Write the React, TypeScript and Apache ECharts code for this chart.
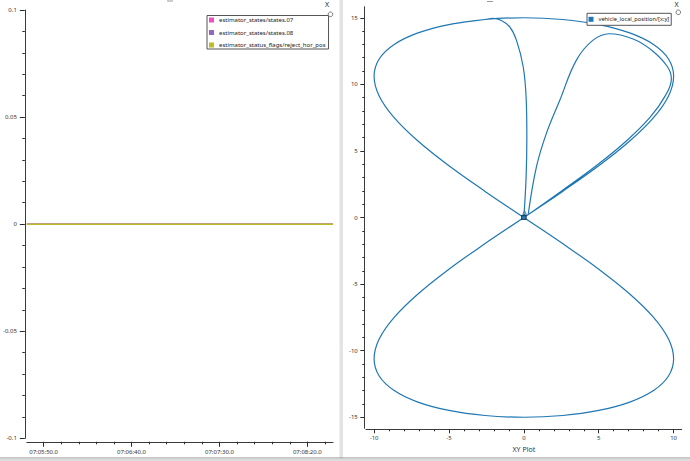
import React, { useEffect, useRef } from "react";
import * as echarts from "echarts";

const FONT = "Noto Sans";

// ---- Left plot (time series) ----
const leftNames = [
  "estimator_states/states.07",
  "estimator_states/states.08",
  "estimator_status_flags/reject_hor_pos",
];
const leftColors = ["#f14cc1", "#9467bd", "#bcbd22"];
const leftTimes = [25540.45, 25600, 25660, 25714.6];
const states07 = [0, 0, 0, 0];
const states08 = [0, 0, 0, 0];
const rejectHorPos = [0, 0, 0, 0];
const leftXRange = [25540.45, 25714.6];
const leftXTicks = [25550, 25700, 50]; // first major, last major, step
const leftXTailMinor = [25700, 25710, 10];
const leftYRange = [-0.1, 0.1, 0.05];

// ---- Right plot (XY plot) ----
const rightName = "vehicle_local_position/[x;y]";
const rightColor = "#1f77b4";
const rightXRange = [-10.54, 10.54];
const rightYRange = [-15.83, 15.83];
const rightXTicks = [-10, 10, 5];
const rightYTicks = [-15, 15, 5];

const takeoffPath = [
  [0, 0], [0.15, 3], [0.2, 6], [0.16, 8.8], [-0.04, 11.3], [-0.49, 13.3], [-0.93, 14.3], [-1.5, 14.8], [-2.07, 14.95],
];
const topLobe = [
  [0, 0], [2.59, 1.96], [5.0, 3.88], [7.07, 5.74], [8.66, 7.5], [9.66, 9.13], [10.0, 10.61], [9.66, 11.9],
  [8.66, 12.99], [7.07, 13.86], [5.0, 14.49], [2.59, 14.87], [0, 15], [-2.59, 14.87], [-5.0, 14.49],
  [-7.07, 13.86], [-8.66, 12.99], [-9.66, 11.9], [-10.0, 10.61], [-9.66, 9.13], [-8.66, 7.5], [-7.07, 5.74],
  [-5.0, 3.88], [-2.59, 1.96], [0, 0],
];
const bottomLobe = [
  [0, 0], [2.59, -1.96], [5.0, -3.88], [7.07, -5.74], [8.66, -7.5], [9.66, -9.13], [10.0, -10.61], [9.66, -11.9],
  [8.66, -12.99], [7.07, -13.86], [5.0, -14.49], [2.59, -14.87], [0, -15], [-2.59, -14.87], [-5.0, -14.49],
  [-7.07, -13.86], [-8.66, -12.99], [-9.66, -11.9], [-10.0, -10.61], [-9.66, -9.13], [-8.66, -7.5], [-7.07, -5.74],
  [-5.0, -3.88], [-2.59, -1.96], [0, 0],
];
const returnPath = [
  [0, 0], [2.5, 1.98], [4.85, 3.9], [6.9, 5.8], [8.45, 7.55], [9.45, 9.15], [9.85, 10.4], [9.6, 11.3],
  [8.6, 12.5], [7.3, 13.4], [5.7, 13.8], [4.6, 13.3], [3.5, 11.8], [2.4, 8.8], [1.5, 6.3], [0.84, 3.8], [0.3, 0.3],
];
const currentPos = [[0, 0]];
const headingMark = [[0.05, 0.38]];

const pad2 = (n: number) => String(n).padStart(2, "0");
const fmtTime = (v: number) => {
  const s = Math.round(v * 10) / 10;
  const h = Math.floor(s / 3600);
  const m = Math.floor((s % 3600) / 60);
  const sec = s - h * 3600 - m * 60;
  return `${pad2(h)}:${pad2(m)}:${sec.toFixed(1).padStart(4, "0")}`;
};

const axisColor = "#3a3a3a";
const tickColor = "#2a2a2a";
const labelColor = "#333";
const LEFT_GRID = { left: 23, top: 10, width: 310, height: 428.3 };
const RIGHT_GRID = { left: 366, top: 6.7, width: 315.7, height: 421.6 };

const hidden = (gridIndex: number) => ({ type: "value", gridIndex, show: false, min: 0, max: 1 });
const lineOnly = (opts: any) => ({
  type: "value",
  axisLine: { show: true, onZero: false, lineStyle: { color: axisColor, width: 1 } },
  axisTick: { show: false },
  axisLabel: { show: false },
  splitLine: { show: false },
  ...opts,
});
const tickAxis = (opts: any, major: number, minor: number) => ({
  type: "value",
  axisLine: { show: false, onZero: false },
  axisTick: { show: true, length: major, lineStyle: { color: tickColor, width: 1 } },
  minorTick: { show: minor > 0, splitNumber: 5, length: minor, lineStyle: { color: tickColor, width: 1 } },
  splitLine: { show: false },
  minorSplitLine: { show: false },
  ...opts,
});

function buildOption(pos: any) {
  const leftData = [states07, states08, rejectHorPos];
  const rightPath = [
    ...takeoffPath,
    ...topLobe.slice(13),
    ...bottomLobe.slice(1),
    ...topLobe.slice(1),
    ...bottomLobe.slice(1),
    ...returnPath.slice(1),
  ];
  const legendBase = {
    orient: "vertical",
    itemWidth: 5,
    itemHeight: 5,
    icon: "rect",
    borderColor: "#555",
    borderWidth: 1,
    backgroundColor: "#fff",
    selectedMode: false,
    z: 10,
  };
  const labelStyle = { fontSize: 6, color: labelColor, fontFamily: FONT };
  return {
    animation: false,
    backgroundColor: "#fff",
    textStyle: { fontFamily: FONT },
    grid: [
      LEFT_GRID,
      RIGHT_GRID,
      { left: pos.lx0, width: pos.lx1 - pos.lx0, top: LEFT_GRID.top, height: LEFT_GRID.height },
      { left: pos.lt0, width: Math.max(1, pos.lt1 - pos.lt0), top: LEFT_GRID.top, height: LEFT_GRID.height },
      { left: pos.rx0, width: pos.rx1 - pos.rx0, top: RIGHT_GRID.top, height: RIGHT_GRID.height },
      { left: RIGHT_GRID.left, width: RIGHT_GRID.width, top: pos.ry1, height: pos.ry0 - pos.ry1 },
    ],
    xAxis: [
      lineOnly({ gridIndex: 0, position: "bottom", offset: 3.5, min: leftXRange[0], max: leftXRange[1] }),
      lineOnly({ gridIndex: 1, position: "bottom", offset: 1, min: rightXRange[0], max: rightXRange[1] }),
      tickAxis({
        gridIndex: 2, position: "bottom", offset: 3.5, min: leftXTicks[0], max: leftXTicks[1], interval: leftXTicks[2],
        axisLabel: { ...labelStyle, margin: 7, formatter: (v: number) => fmtTime(v) },
      }, 5, 2.5),
      tickAxis({
        gridIndex: 3, position: "bottom", offset: 3.5, min: leftXTailMinor[0], max: leftXTailMinor[1], interval: leftXTailMinor[2],
        axisLabel: { show: false },
      }, 2.5, 0),
      tickAxis({
        gridIndex: 4, position: "bottom", offset: 1, min: rightXTicks[0], max: rightXTicks[1], interval: rightXTicks[2],
        name: "XY Plot", nameLocation: "middle", nameGap: 17,
        nameTextStyle: { fontSize: 7, color: labelColor, fontFamily: FONT },
        axisLabel: { ...labelStyle, margin: 6 },
      }, 4, 2),
      hidden(5),
    ],
    yAxis: [
      tickAxis({
        gridIndex: 0, position: "left", offset: 2, min: leftYRange[0], max: leftYRange[1], interval: leftYRange[2],
        axisLine: { show: true, onZero: false, lineStyle: { color: axisColor, width: 1 } },
        axisLabel: { ...labelStyle, margin: 8 },
      }, 5, 2.5),
      lineOnly({ gridIndex: 1, position: "left", offset: 1.7, min: rightYRange[0], max: rightYRange[1] }),
      hidden(2),
      hidden(3),
      hidden(4),
      tickAxis({
        gridIndex: 5, position: "left", offset: 1.7, min: rightYTicks[0], max: rightYTicks[1], interval: rightYTicks[2],
        axisLabel: { ...labelStyle, margin: 6.5 },
      }, 4, 2),
    ],
    legend: [
      {
        ...legendBase, data: leftNames, left: 207, top: 15.5, itemGap: 6.5, padding: [1.5, 3, 1, 2],
        textStyle: { fontSize: 6, fontFamily: FONT, color: "#222" },
      },
      {
        ...legendBase, data: [rightName], left: 587, top: 13.3, itemGap: 5, padding: [3, 2, 3, 1.5],
        textStyle: { fontSize: 5.7, fontFamily: FONT, color: "#222" },
      },
    ],
    series: [
      ...leftNames.map((name, i) => ({
        name,
        type: "line",
        xAxisIndex: 0,
        yAxisIndex: 0,
        color: leftColors[i],
        showSymbol: false,
        lineStyle: { width: 1.5, color: leftColors[i] },
        data: leftTimes.map((t, j) => [t, leftData[i][j]]),
      })),
      {
        name: rightName,
        type: "line",
        xAxisIndex: 1,
        yAxisIndex: 1,
        color: rightColor,
        showSymbol: false,
        smooth: 0.4,
        lineStyle: { width: 1.2, color: rightColor },
        data: rightPath,
      },
      {
        name: "heading",
        type: "scatter",
        xAxisIndex: 1,
        yAxisIndex: 1,
        symbol: "triangle",
        symbolSize: 4,
        itemStyle: { color: "#6a9fcf", borderColor: "#1f4f80", borderWidth: 0.6 },
        data: headingMark,
        z: 5,
      },
      {
        name: "current",
        type: "scatter",
        xAxisIndex: 1,
        yAxisIndex: 1,
        symbol: "rect",
        symbolSize: [4.5, 4],
        itemStyle: { color: "#1f77b4", borderColor: "#0b2540", borderWidth: 1 },
        data: currentPos,
        z: 6,
      },
    ],
    graphic: [
      { type: "rect", shape: { x: 339.5, y: 0, width: 3.5, height: 461 }, style: { fill: "#e3e3e3" }, z: 1 },
      { type: "rect", shape: { x: 0, y: 457.5, width: 690, height: 1 }, style: { fill: "#8c8c8c" }, z: 1 },
      { type: "rect", shape: { x: 0, y: 458.5, width: 690, height: 3 }, style: { fill: "#dcdcdc" }, z: 1 },
      { type: "rect", shape: { x: 167, y: 0.5, width: 6, height: 1 }, style: { fill: "#9a9a9a" }, z: 1 },
      { type: "rect", shape: { x: 487, y: 1, width: 6, height: 1 }, style: { fill: "#9a9a9a" }, z: 1 },
      { type: "text", x: 327, y: 0.5, style: { text: "X", fontSize: 7, fontFamily: FONT, fill: "#222", align: "center", verticalAlign: "top" }, z: 20 },
      { type: "text", x: 676.5, y: 0.5, style: { text: "X", fontSize: 7, fontFamily: FONT, fill: "#222", align: "center", verticalAlign: "top" }, z: 20 },
      { type: "circle", shape: { cx: 330.5, cy: 14.3, r: 2.3 }, style: { fill: "#fff", stroke: "#555", lineWidth: 0.8 }, z: 20 },
      { type: "circle", shape: { cx: 678.3, cy: 12.3, r: 2.3 }, style: { fill: "#fff", stroke: "#555", lineWidth: 0.8 }, z: 20 },
    ],
  };
}

export default function App() {
  const ref = useRef<HTMLDivElement>(null);
  useEffect(() => {
    if (!ref.current) return;
    const chart = echarts.init(ref.current, undefined, { renderer: "svg" });
    const init = { lx0: 40, lx1: 307, lt0: 307, lt1: 325, rx0: 374, rx1: 674, ry0: 417, ry1: 17 };
    chart.setOption(buildOption(init) as any, true);
    const px = (xi: number, v: number) => chart.convertToPixel({ xAxisIndex: xi } as any, v) as number;
    const py = (yi: number, v: number) => chart.convertToPixel({ yAxisIndex: yi } as any, v) as number;
    const pos = {
      lx0: px(0, leftXTicks[0]),
      lx1: px(0, leftXTicks[1]),
      lt0: px(0, leftXTailMinor[0]),
      lt1: px(0, leftXTailMinor[1]),
      rx0: px(1, rightXTicks[0]),
      rx1: px(1, rightXTicks[1]),
      ry0: py(1, rightYTicks[0]),
      ry1: py(1, rightYTicks[1]),
    };
    chart.setOption(buildOption(pos) as any, true);
    return () => chart.dispose();
  }, []);
  return (
    <div
      ref={ref}
      style={{ position: "fixed", left: 0, top: 0, width: 690, height: 461, background: "#fff" }}
    />
  );
}
